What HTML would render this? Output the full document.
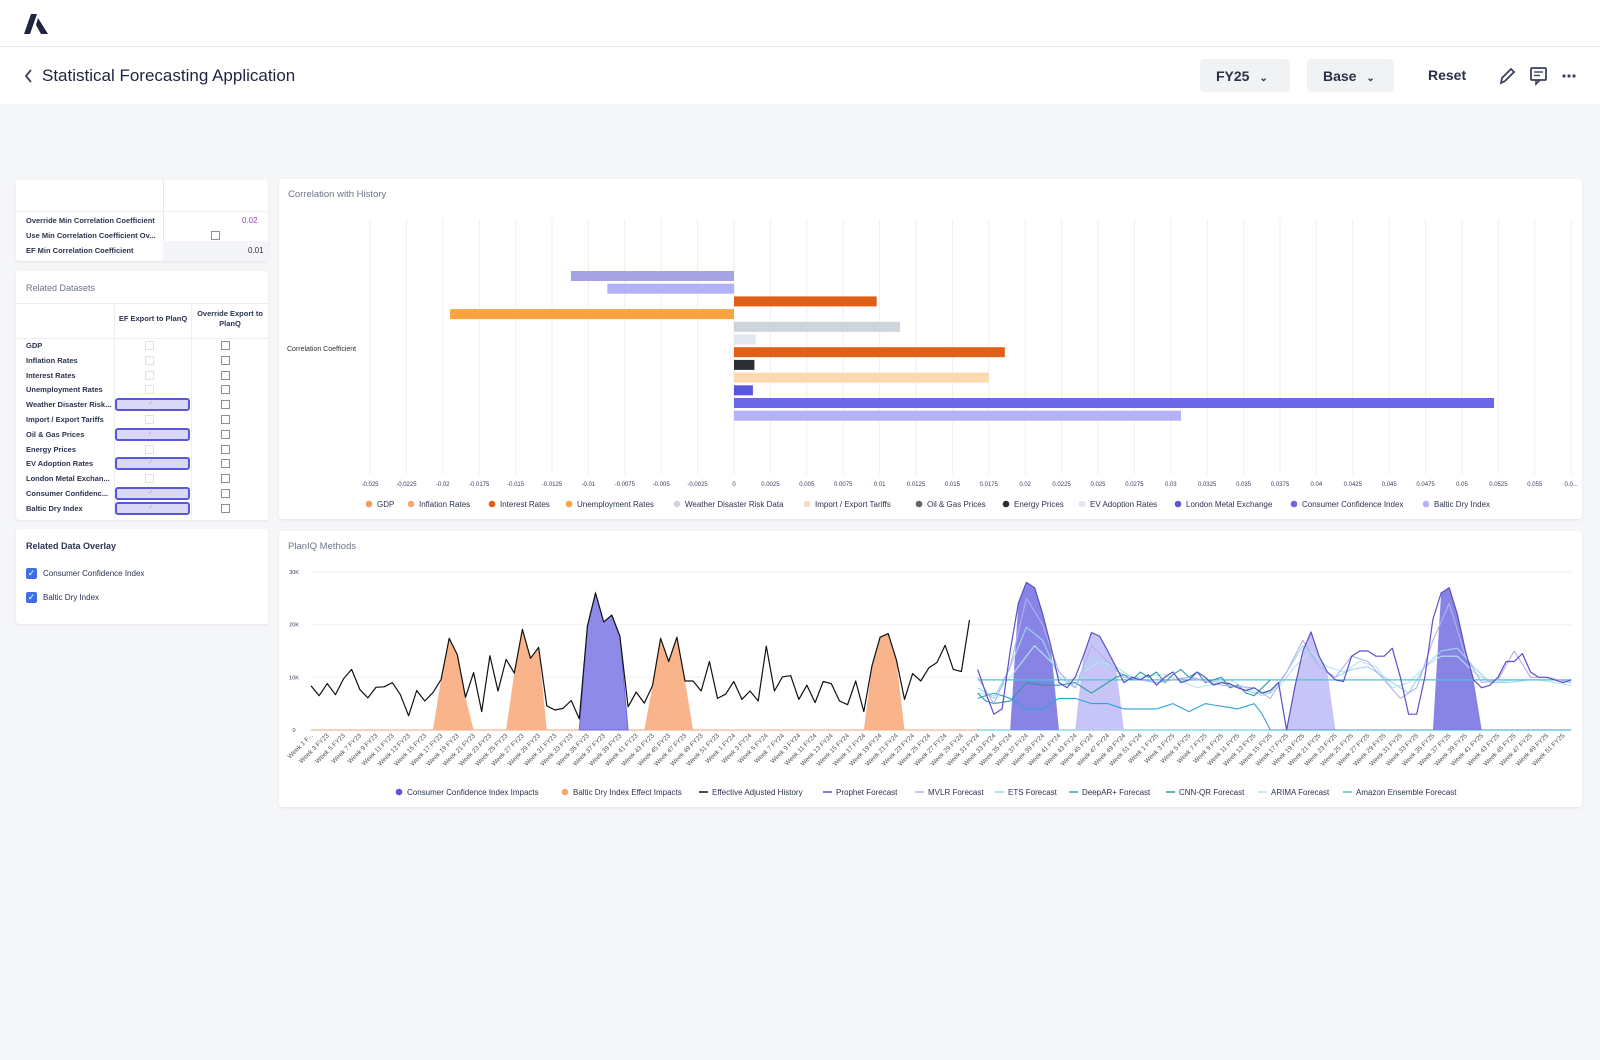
<!DOCTYPE html>
<html><head><meta charset="utf-8">
<style>
*{margin:0;padding:0;box-sizing:border-box}
body{width:1600px;height:1060px;background:#f5f6f8;font-family:"Liberation Sans",sans-serif;position:relative;overflow:hidden;color:#1f2540}
.abs{position:absolute}
.hdr1{left:0;top:0;width:1600px;height:47px;background:#fff;border-bottom:1px solid #e6e8ec}
.hdr2{left:0;top:47px;width:1600px;height:57px;background:#fff}
.dd{background:#f1f2f4;border-radius:4px;height:33px;top:59px;font-size:14px;font-weight:bold;color:#2b3048;padding:9px 0 0 16px}
.panel{background:#fff;border-radius:3px;box-shadow:0 1px 2px rgba(0,0,0,.08)}
.t7{font-size:7.5px;font-weight:bold;color:#2c3350}
.cb{width:9px;height:9px;border:1px solid #8a8f99;background:#fff}
.cbl{width:9px;height:9px;border:1px solid #dfe2e6;background:#fff}
.pill{height:13px;width:75px;border:2px solid #5b57dc;border-radius:3px;background:#d9d8f7}
</style></head><body>
<div class="abs hdr1"></div>
<svg class="abs" style="left:24px;top:14px" width="24" height="20" viewBox="0 0 24 20"><polygon points="7,0 13,0 6,20 0,20" fill="#1f2540"/><polygon points="14,4 24,20 17,20 12,11" fill="#1f2540"/></svg>
<div class="abs hdr2"></div>
<svg class="abs" style="left:24px;top:69px" width="10" height="14"><polyline points="7,1 2,7 7,13" fill="none" stroke="#3b4160" stroke-width="1.8"/></svg>
<div class="abs" style="left:42px;top:66px;font-size:17px;color:#1f2540">Statistical Forecasting Application</div>
<div class="abs dd" style="left:1200px;width:90px">FY25 <span style="font-size:10px;margin-left:6px">&#8964;</span></div>
<div class="abs dd" style="left:1307px;width:87px">Base <span style="font-size:10px;margin-left:6px">&#8964;</span></div>
<div class="abs" style="left:1428px;top:67px;font-size:14px;font-weight:bold;color:#2b3048">Reset</div>
<svg class="abs" style="left:1498px;top:66px" width="80" height="20">
<path d="M3,17 L4,12 L13,3 L16,6 L7,15 Z" fill="none" stroke="#3b4160" stroke-width="1.8"/>
<rect x="33" y="2" width="15" height="12" rx="1" fill="none" stroke="#3b4160" stroke-width="1.8"/><path d="M38,14 L38,18 L42,14" fill="none" stroke="#3b4160" stroke-width="1.6"/><line x1="36" y1="6" x2="45" y2="6" stroke="#3b4160" stroke-width="1.4"/><line x1="36" y1="9.5" x2="42" y2="9.5" stroke="#3b4160" stroke-width="1.4"/>
<circle cx="66" cy="10" r="1.6" fill="#3b4160"/><circle cx="71" cy="10" r="1.6" fill="#3b4160"/><circle cx="76" cy="10" r="1.6" fill="#3b4160"/>
</svg>

<!-- left panel 1 -->
<div class="abs panel" style="left:16px;top:180px;width:252px;height:81px">
 <div class="abs" style="left:147px;top:0;width:1px;height:81px;background:#e8eaee"></div>
 <div class="abs" style="left:0;top:31px;width:252px;height:1px;background:#eef0f2"></div>
 <div class="abs" style="left:147px;top:61px;width:105px;height:20px;background:#f3f5f8"></div>
 <div class="abs t7" style="left:10px;top:36px">Override Min Correlation Coefficient</div>
 <div class="abs" style="left:226px;top:36px;font-size:8px;color:#9b3cc7">0.02</div>
 <div class="abs t7" style="left:10px;top:51px">Use Min Correlation Coefficient Ov...</div>
 <div class="abs cb" style="left:195px;top:51px"></div>
 <div class="abs t7" style="left:10px;top:66px">EF Min Correlation Coefficient</div>
 <div class="abs" style="left:232px;top:66px;font-size:8px;color:#333">0.01</div>
</div>

<!-- left panel 2 -->
<div class="abs panel" style="left:16px;top:271px;width:252px;height:249px">
 <div class="abs" style="left:10px;top:12px;font-size:9px;color:#6c7488">Related Datasets</div>
 <div class="abs" style="left:0;top:32px;width:252px;height:1px;background:#eceef1"></div>
 <div class="abs" style="left:98px;top:33px;width:1px;height:216px;background:#eceef1"></div>
 <div class="abs" style="left:175px;top:33px;width:1px;height:216px;background:#eceef1"></div>
 <div class="abs t7" style="left:100px;top:43px;width:74px;text-align:center">EF Export to PlanQ</div>
 <div class="abs t7" style="left:176px;top:38px;width:76px;text-align:center;line-height:10px">Override Export to PlanQ</div>
 <div class="abs" style="left:0;top:67px;width:252px;height:1px;background:#eceef1"></div>
 <div id="rows"></div>
</div>

<!-- left panel 3 -->
<div class="abs panel" style="left:16px;top:529px;width:252px;height:95px">
 <div class="abs" style="left:10px;top:12px;font-size:9px;font-weight:bold;color:#2c3350">Related Data Overlay</div>
 <div class="abs" style="left:10px;top:39px;width:11px;height:11px;background:#3f6fe0;border-radius:2px;color:#fff;font-size:9px;line-height:11px;text-align:center">&#10003;</div>
 <div class="abs" style="left:27px;top:40px;font-size:8px;color:#2c3350">Consumer Confidence Index</div>
 <div class="abs" style="left:10px;top:63px;width:11px;height:11px;background:#3f6fe0;border-radius:2px;color:#fff;font-size:9px;line-height:11px;text-align:center">&#10003;</div>
 <div class="abs" style="left:27px;top:64px;font-size:8px;color:#2c3350">Baltic Dry Index</div>
</div>

<div class="abs panel" style="left:279px;top:179px;width:1303px;height:340px"></div>
<div class="abs panel" style="left:279px;top:531px;width:1303px;height:276px"></div>

<svg id="ch" class="abs" style="left:0;top:0" width="1600" height="1060" font-family="Liberation Sans, sans-serif"></svg>

<script>
// left table rows
(function(){
 var names=["GDP","Inflation Rates","Interest Rates","Unemployment Rates","Weather Disaster Risk...","Import / Export Tariffs","Oil & Gas Prices","Energy Prices","EV Adoption Rates","London Metal Exchan...","Consumer Confidenc...","Baltic Dry Index"];
 var hl=[4,6,8,10,11];var h="";
 for(var i=0;i<12;i++){var y=69+i*14.8;
  h+='<div class="abs t7" style="left:10px;top:'+(y+1)+'px">'+names[i].replace("&","&amp;")+'</div>';
  if(hl.indexOf(i)>=0)h+='<div class="abs pill" style="left:99px;top:'+(y-1)+'px"></div><div class="abs" style="left:132px;top:'+(y+1)+'px;font-size:6px;color:#aaa">&#10003;</div>';
  else h+='<div class="abs cbl" style="left:129px;top:'+(y+1)+'px"></div>';
  h+='<div class="abs cb" style="left:205px;top:'+(y+1)+'px"></div>';
 }
 document.getElementById("rows").innerHTML=h;
})();
var s="";
function T(x,y,t,o){s+='<text x="'+x+'" y="'+y+'" '+(o||'')+'>'+t+'</text>';}
// bar chart
T(288,197,"Correlation with History",'font-size:9.5px fill="#6c7488" font-size="9.5"');
var x0=370,st=36.4;
var labs=["-0.025","-0.0225","-0.02","-0.0175","-0.015","-0.0125","-0.01","-0.0075","-0.005","-0.0025","0","0.0025","0.005","0.0075","0.01","0.0125","0.015","0.0175","0.02","0.0225","0.025","0.0275","0.03","0.0325","0.035","0.0375","0.04","0.0425","0.045","0.0475","0.05","0.0525","0.055","0.0..."];
for(var k=0;k<34;k++){var x=x0+k*st;s+='<line x1="'+x+'" y1="219" x2="'+x+'" y2="474" stroke="#eceef1" stroke-width="1"/>';
 T(x,486,labs[k],'font-size="6" fill="#3a3f5c" text-anchor="middle"');}
T(287,351,"Correlation Coefficient",'font-size="7" fill="#333"');
var bars=[[-0.0112,"#a5a3e3"],[-0.0087,"#b3b2f8"],[0.0098,"#e0601a"],[-0.0195,"#f9a441"],[0.0114,"#cdd4dc"],[0.0015,"#e1e8f0"],[0.0186,"#e0601a"],[0.0014,"#2b2f33"],[0.0175,"#fdd9b0"],[0.0013,"#5b57dc"],[0.0522,"#6c66e8"],[0.0307,"#b4b2f8"]];
var zero=x0+10*st,sc=st/0.0025;
for(var i=0;i<12;i++){var v=bars[i][0],y=271+i*12.7,w=Math.abs(v)*sc;s+='<rect x="'+(v<0?zero-w:zero)+'" y="'+y+'" width="'+w+'" height="10" fill="'+bars[i][1]+'"/>';}
var lg=[[369,"GDP","#f39a5a"],[411,"Inflation Rates","#f5a878"],[492,"Interest Rates","#e0601a"],[569,"Unemployment Rates","#f9a441"],[677,"Weather Disaster Risk Data","#cdd4dc"],[807,"Import / Export Tariffs","#fdd9c0"],[919,"Oil & Gas Prices","#5c6670"],[1006,"Energy Prices","#2b2f33"],[1082,"EV Adoption Rates","#e1e3f8"],[1178,"London Metal Exchange","#5b57dc"],[1294,"Consumer Confidence Index","#6c66e8"],[1426,"Baltic Dry Index","#b4b2f8"]];
lg.forEach(function(l){s+='<circle cx="'+l[0]+'" cy="504" r="3.3" fill="'+l[2]+'"/>';T(l[0]+8,507,l[1].replace("&","&amp;"),'font-size="8" fill="#2c3350"');});
// line chart
T(288,549,"PlanIQ Methods",'font-size="9.5" fill="#6c7488"');
var X=function(i){return 311+i*8.13},Y=function(v){return 730-v*5.27};
[0,10,20,30].forEach(function(v){s+='<line x1="311" y1="'+Y(v)+'" x2="1571" y2="'+Y(v)+'" stroke="#eef0f3"/>';T(294,Y(v)+2,v?v+"K":"0",'font-size="5.5" fill="#3a3f5c" text-anchor="middle"');});
var H=[8.4,6.5,8.8,6.7,9.7,11.5,7.7,6.1,8.1,8.2,9.0,6.7,2.7,7.5,5.5,7.1,9.6,17.4,14.3,6.2,10.9,3.5,14.1,7.4,13.4,10.8,19.1,13.6,15.7,4.6,3.8,4.1,5.6,2.1,19.7,26.0,20.5,21.8,17.8,4.4,7.2,5.1,8.4,17.4,13.0,17.6,9.3,9.3,7.4,13.0,6.0,6.8,9.2,5.8,7.4,5.5,15.9,7.4,10.1,10.3,5.8,8.5,5.2,9.2,8.8,5.5,4.8,9.3,3.5,12.2,17.6,18.3,13.3,5.8,10.7,9.3,11.8,12.8,16.1,11.5,11.1,20.9];
function keys(k,a,b){var o={};var ks=Object.keys(k).map(Number).sort(function(p,q){return p-q});for(var i=a;i<=b;i++){var j=0;while(j<ks.length-1&&ks[j+1]<i)j++;var p=ks[j],q=ks[Math.min(j+1,ks.length-1)];var v=(q==p)?k[p]:k[p]+(k[q]-k[p])*(i-p)/(q-p);if(i<=ks[0])v=k[ks[0]];o[i]=v;}return o;}
function line(o,col,w){var p=[];for(var i in o)p.push(X(+i).toFixed(1)+","+Y(o[i]).toFixed(1));s+='<polyline points="'+p.join(" ")+'" fill="none" stroke="'+col+'" stroke-width="'+(w||1.2)+'" stroke-linejoin="round"/>';}
function area(a,b,vals,fill,stroke){var p=[X(a)+","+Y(0)];for(var i=a+1;i<b;i++)p.push(X(i).toFixed(1)+","+Y(vals[i]).toFixed(1));p.push(X(b)+","+Y(0));s+='<polygon points="'+p.join(" ")+'" fill="'+fill+'" stroke="'+(stroke||"none")+'" stroke-width="1"/>';}
var Hh={};H.forEach(function(v,i){Hh[i]=v});
s+='<line x1="311" y1="730" x2="977" y2="730" stroke="#f0a080" stroke-width="1"/>';
s+='<line x1="977" y1="730" x2="1571" y2="730" stroke="#4fc3d9" stroke-width="1"/>';
area(15,20,Hh,"#f9b48c");area(24,29,Hh,"#f9b48c");area(41,47,Hh,"#f9b48c");area(68,73,Hh,"#f9b48c");
area(33,39,Hh,"#8e8be8","#6b66e0");
line(Hh,"#111",1.2);
var P=keys({82:11.5,83:7,84:3,85:4,86:15,87:24,88:28,89:27,90:22,91:16,92:9,93:8,94:10,95:14,96:18.5,97:17.8,98:15,99:12,100:9,101:10,102:9.5,103:10.5,104:8.5,105:10,106:11,107:9,108:9.5,109:11,110:10,111:8.5,112:9,113:8.8,114:8,115:7.5,116:8,117:7,118:7.5,119:9,120:0,121:8,122:15,123:18.6,124:14,125:11,126:9.5,127:9.2,128:14,129:15,130:15,131:14,132:14,133:15.5,134:10,135:3,136:3,137:10,138:21,139:26,140:27,141:22,142:15,143:9.5,144:8,145:8.5,146:10,147:13,148:13,149:14.5,150:11,151:10,152:10,153:9.5,154:9,155:9.5},82,155);
area(86,92,P,"#8784e6");area(138,144,P,"#8784e6");area(94,100,P,"#c7c4f8");area(120,126,P,"#c7c4f8");
var M=keys({82:10,84:5,86:12,88:25,90:20,92:11,94:8,96:16,98:13,100:10,104:9,108:10,112:8.5,116:8,118:6,120:11,122:17,124:12,126:10,128:14,130:13,132:9.5,134:6,136:8,138:17,140:24,142:14,144:9,146:9.5,148:15,150:10,152:10,155:9},82,155);
var E=keys({82:8,84:6,86:12,88:19.5,90:17,92:10,94:8,96:14,98:12,100:10.5,104:9,108:10,112:9,116:7,118:7,120:11,122:16,124:12,126:10,128:11.5,130:12,133:9,135:7,137:12,139:15,141:15.5,143:12,145:9,147:9,150:9.5,155:9.5},82,155);
var A=keys({82:7,84:6.5,86:10,89:16,91:13,93:9,95:11,97:13,99:12,101:10,105:10.5,109:8,113:9.5,117:6.5,119:8,121:12,123:15,125:12,127:11,129:13,131:12,133:8,135:9,137:12,139:14,141:14,143:11,145:9,148:9.5,151:9.5,155:8.5},82,155);
var D=keys({82:6,84:7,86:6,88:4,90:4,92:6,94:6,96:5,98:5,100:4,102:4,104:4,106:5,108:3.5,110:5,112:4.5,114:4,116:5,117:3,118:0,155:0},82,155);
var C=keys({82:7,83:5.5,84:5,86:5.5,88:9,90:8.5,92:8.5,94:9,96:7,98:9,99:10,100:10.5,101:9.5,102:11,103:10,104:11,105:9,106:10.5,107:11.5,108:10,109:11,110:9,111:9.5,112:10,113:8,114:8.5,115:7,116:6.5,117:8,118:9.5},82,118);
var Am={};for(var i=82;i<=155;i++)Am[i]=9.5;
line(A,"#b5e6ee",1.1);line(E,"#9ad8ec",1.1);line(Am,"#4fc3d9",1.3);line(D,"#2fa3d9",1.1);line(C,"#2b9aa0",1.1);line(M,"#b4b0ea",1.1);line(P,"#5b4fc9",1.2);
for(var i=0;i<156;i+=2){var fy=i<52?"FY23":i<104?"FY24":"FY25";var w=(i%52)+1;var t=(i==0)?"Week 1 F...":"Week "+w+" "+fy;var x=X(i)+2,y=736;s+='<text x="'+x+'" y="'+y+'" font-size="6.5" fill="#555" text-anchor="end" transform="rotate(-45 '+x+' '+y+')">'+t+'</text>';}
var l2=[[399,"Consumer Confidence Index Impacts","#5b57dc","c"],[565,"Baltic Dry Index Effect Impacts","#f9a470","c"],[704,"Effective Adjusted History","#111","l"],[828,"Prophet Forecast","#5b4fc9","l"],[920,"MVLR Forecast","#b4b0ea","l"],[1000,"ETS Forecast","#9ad8ec","l"],[1074,"DeepAR+ Forecast","#2fa3d9","l"],[1171,"CNN-QR Forecast","#2b9aa0","l"],[1263,"ARIMA Forecast","#b5e6ee","l"],[1348,"Amazon Ensemble Forecast","#4fc3d9","l"]];
l2.forEach(function(l){if(l[3]=="c")s+='<circle cx="'+l[0]+'" cy="792" r="3.3" fill="'+l[2]+'"/>';else s+='<line x1="'+(l[0]-5)+'" y1="792" x2="'+(l[0]+4)+'" y2="792" stroke="'+l[2]+'" stroke-width="1.5"/>';T(l[0]+8,795,l[1],'font-size="8" fill="#2c3350"');});
document.getElementById("ch").innerHTML=s;
</script>
</body></html>
